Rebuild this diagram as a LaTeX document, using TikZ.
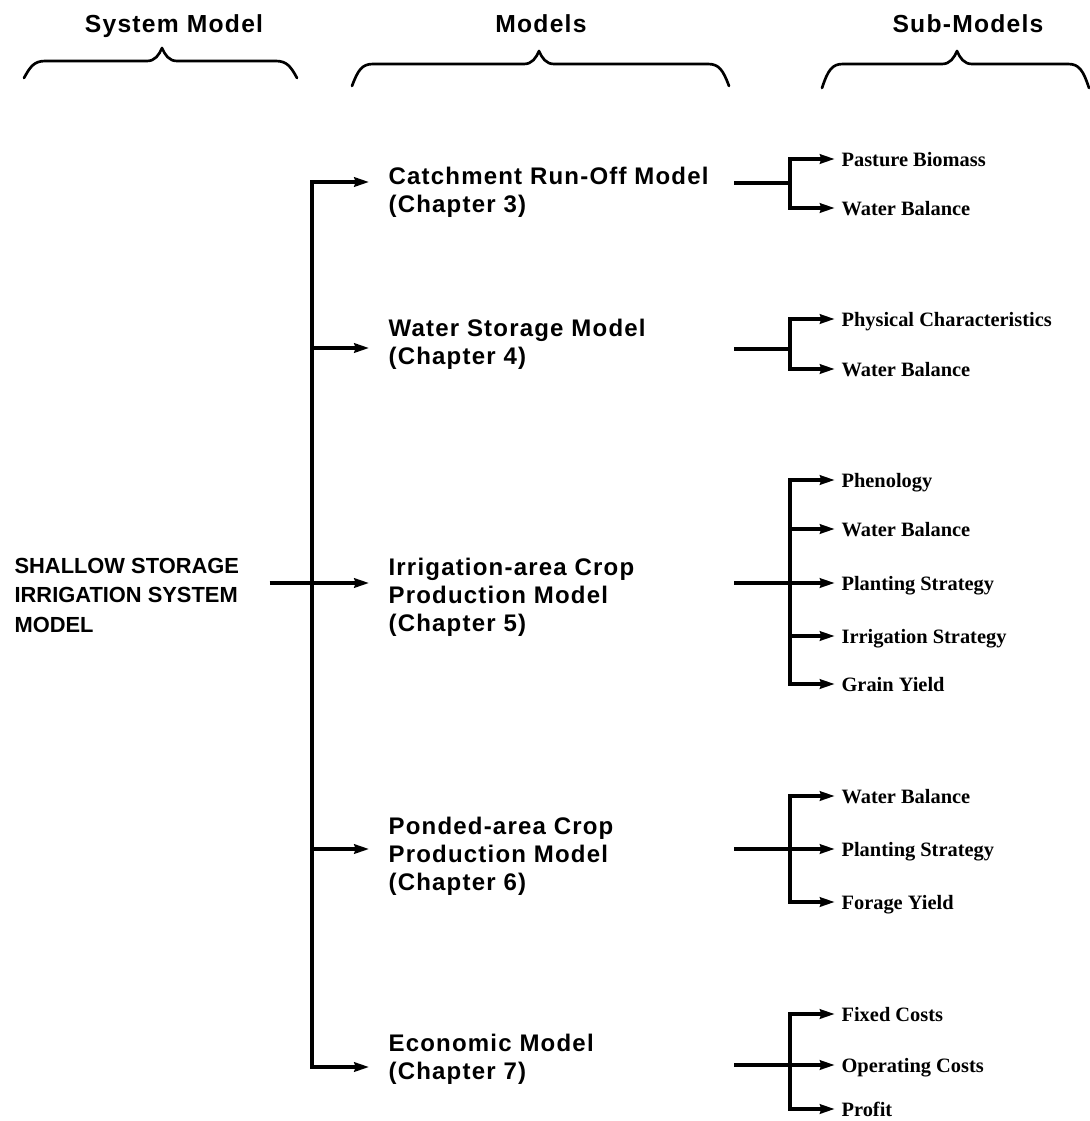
\documentclass[tikz,border=0pt]{standalone}
\usepackage{fontspec}
\usetikzlibrary{arrows.meta}
\newfontfamily\helvsp[LetterSpace=5]{Liberation Sans}
\newfontfamily\helv{Liberation Sans}
\newfontfamily\tms{Liberation Serif}

\tikzset{every picture/.style={line width=2.4pt}}

\begin{document}
\begin{tikzpicture}[x=0.75pt,y=0.75pt,yscale=-1,xscale=1,
  hdr/.style={anchor=base, inner sep=0pt, font=\helvsp\bfseries\fontsize{18.5}{21}\selectfont},
  model/.style={anchor=base west, align=left, inner sep=0pt, font=\helvsp\bfseries\fontsize{18}{21}\selectfont},
  sysbox/.style={anchor=base west, align=left, inner sep=0pt, font=\helv\bfseries\fontsize{16.4}{22}\selectfont},
  submodel/.style={anchor=west, inner sep=0pt, text height=11pt, text depth=0.5pt, font=\tms\bfseries\fontsize{15.3}{18}\selectfont},
  brace/.style={line width=2pt, line cap=round, line join=round},
  arr/.style={-{Stealth[length=11pt,width=7pt,inset=1pt]}},
  tomodel/.style={arr, shorten >=13.5pt},
  tosub/.style={arr, shorten >=4pt}]
\useasboundingbox (0,0) rectangle (1089,1121);

% Text Node
\node[hdr] (hsys) at (174,32) {System Model};
% Text Node
\node[hdr] (hmod) at (541,32) {Models};
% Text Node
\node[hdr] (hsub) at (968,32) {Sub-Models};

%Braces under the headings
\foreach \l/\p/\r/\f/\e in {24/162/297/61/78, 352/539/729/64/86, 822/957/1089/64/88}
  \draw[brace] (\l,\e) .. controls (\l+6,\f+6) and (\l+10,\f) .. (\l+21,\f) -- (\p-15,\f) .. controls (\p-7,\f) and (\p-3,\f-6) .. (\p,\f-13) .. controls (\p+3,\f-6) and (\p+7,\f) .. (\p+15,\f) -- (\r-21,\f) .. controls (\r-10,\f) and (\r-6,\f+6) .. (\r,\e);

% Text Node (anchored at the baseline of its last line)
\node[sysbox] (sys) at (13,632) {SHALLOW STORAGE\\IRRIGATION SYSTEM\\MODEL};

% Text Node
\node[model] (catch) at (387,212) {Catchment Run-Off Model\\(Chapter 3)};
% Text Node
\node[model] (store) at (387,364) {Water Storage Model\\(Chapter 4)};
% Text Node
\node[model] (irr) at (387,631) {Irrigation-area Crop\\Production Model\\(Chapter 5)};
% Text Node
\node[model] (pond) at (387,890) {Ponded-area Crop\\Production Model\\(Chapter 6)};
% Text Node
\node[model] (econ) at (387,1079) {Economic Model\\(Chapter 7)};

%Trunk and arrows to the models
\coordinate (t1) at (312,182);
\coordinate (t2) at (312,348);
\coordinate (t3) at (312,583);
\coordinate (t4) at (312,849);
\coordinate (t5) at (312,1067);
\draw[tomodel] (t3) |- (catch.west |- t1);
\draw[tomodel] (t3) |- (econ.west |- t5);
\draw[tomodel] (t2) -- (store.west |- t2);
\draw[tomodel] (t4) -- (pond.west |- t4);
\draw[tomodel, shorten <=21.75pt] (sys.east |- t3) -- (irr.west |- t3);

%Catchment sub-models
\node[submodel] (c1) at (840,159) {Pasture Biomass};
\node[submodel] (c2) at (840,208) {Water Balance};
\coordinate (cs) at (734,183);
\coordinate (cj) at (790,183);
\draw (cs) -- (cj);
\draw[tosub] (cj) |- (c1.west);
\draw[tosub] (cj) |- (c2.west);

%Water storage sub-models
\node[submodel] (s1) at (840,319) {Physical Characteristics};
\node[submodel] (s2) at (840,369) {Water Balance};
\coordinate (ss) at (734,349);
\coordinate (sj) at (790,349);
\draw (ss) -- (sj);
\draw[tosub] (sj) |- (s1.west);
\draw[tosub] (sj) |- (s2.west);

%Irrigation-area sub-models
\node[submodel] (i1) at (840,480) {Phenology};
\node[submodel] (i2) at (840,529) {Water Balance};
\node[submodel] (i3) at (840,583) {Planting Strategy};
\node[submodel] (i4) at (840,636) {Irrigation Strategy};
\node[submodel] (i5) at (840,684) {Grain Yield};
\coordinate (is) at (734,583);
\coordinate (ij) at (790,583);
\draw[tosub] (is) -- (i3.west);
\draw[tosub] (ij) |- (i1.west);
\draw[tosub] (ij) |- (i2.west);
\draw[tosub] (ij) |- (i4.west);
\draw[tosub] (ij) |- (i5.west);

%Ponded-area sub-models
\node[submodel] (p1) at (840,796) {Water Balance};
\node[submodel] (p2) at (840,849) {Planting Strategy};
\node[submodel] (p3) at (840,902) {Forage Yield};
\coordinate (ps) at (734,849);
\coordinate (pj) at (790,849);
\draw[tosub] (ps) -- (p2.west);
\draw[tosub] (pj) |- (p1.west);
\draw[tosub] (pj) |- (p3.west);

%Economic sub-models
\node[submodel] (e1) at (840,1014) {Fixed Costs};
\node[submodel] (e2) at (840,1065) {Operating Costs};
\node[submodel] (e3) at (840,1109) {Profit};
\coordinate (es) at (734,1065);
\coordinate (ej) at (790,1065);
\draw[tosub] (es) -- (e2.west);
\draw[tosub] (ej) |- (e1.west);
\draw[tosub] (ej) |- (e3.west);

\end{tikzpicture}
\end{document}
